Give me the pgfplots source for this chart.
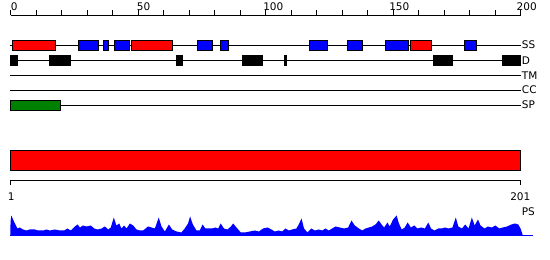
\documentclass[border=0pt]{standalone}
\usepackage{pgfplots}
\pgfplotsset{compat=1.18}
\usepackage{fontspec}
\setmainfont{DejaVu Sans}
\newcommand\blk[5]{\addplot[fill=#1,draw=black,line width=1bp] coordinates {(#2,#4) (#3,#4) (#3,#5) (#2,#5)} -- cycle;}
\pgfplotsset{full/.style={at={(0,0)},anchor=south west,scale only axis,width=550bp,height=260bp,hide axis,clip=false}}
\begin{document}
\fontsize{10.5bp}{12bp}\selectfont
\begin{tikzpicture}
\useasboundingbox (0,0) rectangle (550bp,260bp);
% ---- feature tracks (scale 0..200)
\begin{axis}[full, xmin=-4.198, xmax=211.573, ymin=0, ymax=260, y dir=reverse]
\draw[line width=1bp] (axis cs:0,15) -- (axis cs:200,15);
\pgfplotsinvokeforeach{0,10,...,200}{\draw[line width=1bp] (axis cs:#1,15) -- (axis cs:#1,10);}
\node[anchor=base west,inner sep=0] at (axis cs:0,10) {0};
\node[anchor=base west,inner sep=0,xshift=-1.5bp] at (axis cs:50,10) {50};
\node[anchor=base west,inner sep=0,xshift=-2.5bp] at (axis cs:100,10) {100};
\node[anchor=base west,inner sep=0,xshift=-4bp] at (axis cs:150,10) {150};
\node[anchor=base west,inner sep=0,xshift=-4bp] at (axis cs:200,10) {200};
% track lines
\addplot[black,line width=1bp] coordinates {(-0.3,45) (200.1,45)};
\addplot[black,line width=1bp] coordinates {(-0.3,60.5) (200.1,60.5)};
\addplot[black,line width=1bp] coordinates {(-0.3,75.3) (200.1,75.3)};
\addplot[black,line width=1bp] coordinates {(-0.3,90) (200.1,90)};
\addplot[black,line width=1bp] coordinates {(-0.3,105) (200.1,105)};
% SS
\blk{red}{0.6}{17.5}{40.3}{50.7}
\blk{blue}{26.5}{34.5}{40.3}{50.7}
\blk{blue}{36.3}{38.4}{40.3}{50.7}
\blk{blue}{40.6}{46.7}{40.3}{50.7}
\blk{red}{47.3}{63.6}{40.3}{50.7}
\blk{blue}{73.2}{79.2}{40.3}{50.7}
\blk{blue}{82.2}{85.5}{40.3}{50.7}
\blk{blue}{117.1}{124.4}{40.3}{50.7}
\blk{blue}{132.1}{138.1}{40.3}{50.7}
\blk{blue}{147.0}{156.1}{40.3}{50.7}
\blk{red}{156.8}{165.2}{40.3}{50.7}
\blk{blue}{177.9}{182.6}{40.3}{50.7}
% D
\blk{black}{-0.2}{2.7}{55.5}{65.5}
\blk{black}{15.4}{23.5}{55.5}{65.5}
\blk{black}{65.2}{67.5}{55.5}{65.5}
\blk{black}{91.1}{98.6}{55.5}{65.5}
\blk{black}{107.4}{108.2}{55.5}{65.5}
\blk{black}{165.9}{173.2}{55.5}{65.5}
\blk{black}{192.9}{200.1}{55.5}{65.5}
% SP
\blk{black!50!green}{-0.2}{19.5}{100.2}{110.2}
\node[anchor=base west,inner sep=0] at (axis cs:200.5,48.8) {SS};
\node[anchor=base west,inner sep=0] at (axis cs:200.5,64.3) {D};
\node[anchor=base west,inner sep=0] at (axis cs:200.5,79.1) {TM};
\node[anchor=base west,inner sep=0] at (axis cs:200.5,93.8) {CC};
\node[anchor=base west,inner sep=0] at (axis cs:200.5,108.8) {SP};
\end{axis}
% ---- sequence bar (scale 1..201)
\begin{axis}[full, xmin=-3.039, xmax=212.647, ymin=0, ymax=260, y dir=reverse]
\blk{red}{1}{201}{150.3}{170.3}
\draw[line width=1bp] (axis cs:1,185) -- (axis cs:1,180.3) -- (axis cs:201,180.3) -- (axis cs:201,185);
\node[anchor=base,inner sep=0] at (axis cs:1.4,200) {1};
\node[anchor=base,inner sep=0] at (axis cs:201,200) {201};
\node[anchor=base west,inner sep=0] at (axis cs:201.5,215) {PS};
\end{axis}
% ---- PS profile
\begin{axis}[full, xmin=-3.039, xmax=212.647, ymin=-24.5, ymax=235.5]
\addplot[fill=blue,draw=none] coordinates {
(1,0) (1.1,14) (1.4,20) (2.8,12) (3.8,7) (4.7,8) (6,6) (7.4,5) (8.6,6) (10.6,6) (11.9,5) (13.9,5) (15.2,6) (16.5,5) (18.5,6) (20.4,5) (22.1,5) (23.4,7) (24.7,5) (26.3,9) (27.4,11) (28.3,8) (29.5,10) (30.9,9) (32.6,10) (33.9,7) (35.2,6) (36.8,7) (38.1,9) (39.4,6) (40.4,8) (41.6,18) (42.6,10) (43.7,12) (44.6,7) (45.6,10) (46.6,7) (47.9,12) (49.2,10) (50.5,6) (51.8,5) (53.1,5) (55,9) (56.4,8) (57.7,7) (59.2,18) (60.3,9) (61.6,4) (63.2,11) (64.5,6) (66.2,4) (68.1,3) (69.4,7) (70.7,12) (71.5,19) (72.6,11) (74,5) (75.3,5) (76.4,11) (77.5,7) (78.8,7) (80.1,7) (81.5,8) (82.5,7) (83.5,12) (84.8,7) (86.2,6) (87.5,9) (88.4,12) (89.7,8) (91.4,3) (93,3) (94.9,4) (96.9,5) (98.5,4) (100.1,7) (101.9,8) (103.4,6) (104.7,4) (106.3,5) (107.6,4) (108.9,7) (110.2,5) (111.5,6) (113.2,7) (114.1,11) (115.2,17) (116.2,7) (117.5,3) (119.1,7) (120.4,5) (122,6) (123.3,5) (124.6,7) (125.9,5) (127.2,7) (128.5,9) (130.2,8) (131.9,7) (133.5,8) (134.8,15) (136.1,10) (137.7,7) (139,5) (140.3,7) (141.6,8) (142.9,9) (144.2,11) (145.5,15) (146.6,11) (147.6,8) (148.9,13) (149.8,9) (151.1,16) (152.5,20) (153.4,12) (154.5,6) (155.7,8) (156.8,13) (158.1,8) (159.4,10) (160.7,7) (162.1,8) (163.6,7) (164.9,13) (166,7) (167.3,5) (168.9,7) (170.2,7) (171.5,8) (172.8,7) (174.4,8) (175.7,18) (176.7,9) (178.1,7) (179.4,11) (180.7,7) (182,18) (183.1,10) (184.4,16) (185.4,10) (187,7) (188.3,9) (189.9,8) (191.2,10) (192.8,7) (194.1,8) (195.8,9) (197.5,11) (198.9,12) (200.2,11) (201.1,7) (202,0)
} \closedcycle;
\addplot[blue,line width=1bp] coordinates {(1,0) (206.1,0)};
\end{axis}
\end{tikzpicture}
\end{document}
